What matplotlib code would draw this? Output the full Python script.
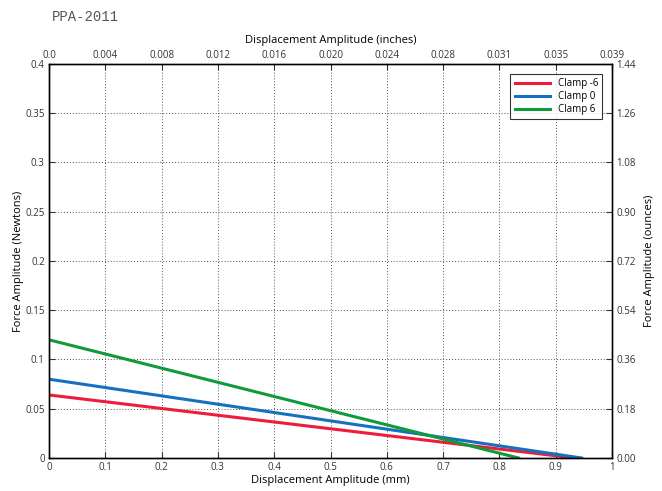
import matplotlib
matplotlib.use("Agg")
from matplotlib import pyplot as plt

# data: straight lines, start and end points
disp_mm = {
    "Clamp -6": [0.0, 0.933],
    "Clamp 0": [0.0, 0.946],
    "Clamp 6": [0.0, 0.834],
}
force_n = {
    "Clamp -6": [0.064, 0.0],
    "Clamp 0": [0.080, 0.0],
    "Clamp 6": [0.120, 0.0],
}
colors = {"Clamp -6": "#ee1c3c", "Clamp 0": "#1570c0", "Clamp 6": "#109a3a"}

mm_ticks = [0, 0.1, 0.2, 0.3, 0.4, 0.5, 0.6, 0.7, 0.8, 0.9, 1]
mm_labels = ["0", "0.1", "0.2", "0.3", "0.4", "0.5", "0.6", "0.7", "0.8", "0.9", "1"]
inch_labels = ["0.0", "0.004", "0.008", "0.012", "0.016", "0.020", "0.024",
               "0.028", "0.031", "0.035", "0.039"]
n_ticks = [0, 0.05, 0.1, 0.15, 0.2, 0.25, 0.3, 0.35, 0.4]
n_labels = ["0", "0.05", "0.1", "0.15", "0.2", "0.25", "0.3", "0.35", "0.4"]
oz_labels = ["0.00", "0.18", "0.36", "0.54", "0.72", "0.90", "1.08", "1.26", "1.44"]

plt.rcParams["font.family"] = ["Open Sans", "DejaVu Sans"]
plt.rcParams["font.size"] = 7

fig = plt.figure(figsize=(6.62, 4.91), dpi=100)
ax = fig.add_axes([0.074, 0.0672, 0.8505, 0.8025])

for name in disp_mm:
    ax.plot(disp_mm[name], force_n[name], color=colors[name], lw=2.2, label=name)

ax.set_xlim(0, 1)
ax.set_ylim(0, 0.4)
ax.set_xticks(mm_ticks)
ax.set_xticklabels(mm_labels)
ax.set_yticks(n_ticks)
ax.set_yticklabels(n_labels)
ax.grid(True, color="#555555", linestyle=(0, (1, 2)), linewidth=0.7)
ax.tick_params(direction="in", length=4, width=0.8, colors="#333333", pad=3)
ax.set_xlabel("Displacement Amplitude (mm)", fontsize=8, labelpad=1)
ax.set_ylabel("Force Amplitude (Newtons)", fontsize=8, labelpad=1)

top = ax.twiny()
top.set_xlim(0, 1)
top.set_xticks(mm_ticks)
top.set_xticklabels(inch_labels)
top.tick_params(direction="in", length=4, width=0.8, colors="#333333", pad=2)
top.set_xlabel("Displacement Amplitude (inches)", fontsize=8, labelpad=5)

right = ax.twinx()
right.set_ylim(0, 0.4)
right.set_yticks(n_ticks)
right.set_yticklabels(oz_labels)
right.tick_params(direction="in", length=4, width=0.8, colors="#333333", pad=3)
right.set_ylabel("Force Amplitude (ounces)", fontsize=8, labelpad=6)

for a in (ax, top, right):
    for s in a.spines.values():
        s.set_linewidth(0.9)

leg = ax.legend(loc="upper right", fontsize=7, frameon=True, fancybox=False,
                edgecolor="black", handlelength=3.6, borderaxespad=1.0,
                labelspacing=0.2, borderpad=0.45)
leg.get_frame().set_linewidth(0.8)

fig.text(0.078, 0.966, "PPA-2011", family="Liberation Mono", fontsize=10, color="#555555",
         va="center")

fig.savefig("out.png", dpi=100)
